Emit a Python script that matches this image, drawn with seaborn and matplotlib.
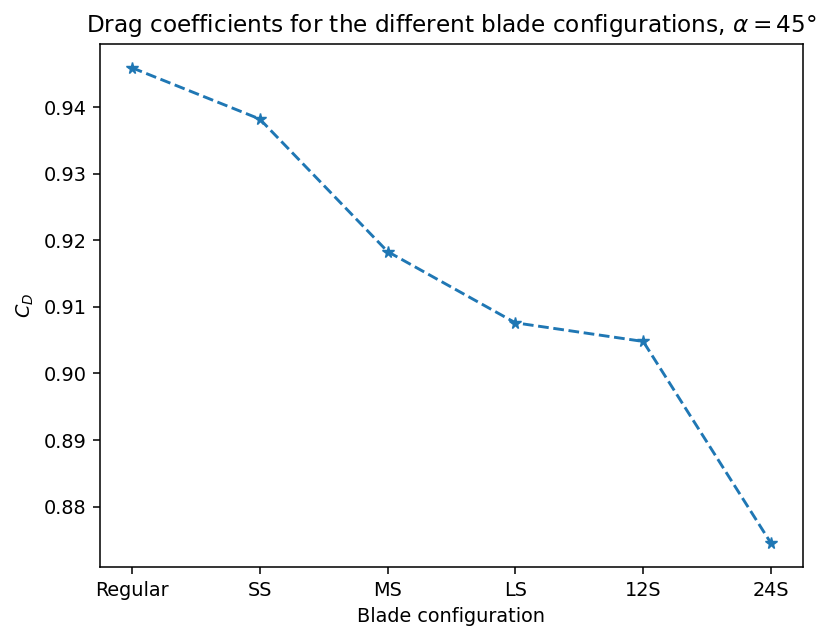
import matplotlib
matplotlib.use("Agg")
import matplotlib.pyplot as plt
import seaborn as sns
import pandas as pd

configurations = ["Regular", "SS", "MS", "LS", "12S", "24S"]
drag_coefficients = [0.9459, 0.9382, 0.9183, 0.9076, 0.9048, 0.8745]

df = pd.DataFrame({"config": configurations, "cd": drag_coefficients})

DPI = 139
plt.rcParams["font.family"] = ["DejaVu Sans"]
fig = plt.figure(figsize=(825 / DPI, 630 / DPI), dpi=DPI)
ax = fig.add_axes([0.1212, 0.100, 0.8521, 0.8302])

sns.lineplot(data=df, x="config", y="cd", sort=False, marker="*",
             linestyle="--", color="#1f77b4", markersize=6,
             markeredgecolor="#1f77b4", ax=ax)

ax.set_yticks([0.88, 0.89, 0.90, 0.91, 0.92, 0.93, 0.94])
ax.set_yticklabels(["0.88", "0.89", "0.90", "0.91", "0.92", "0.93", "0.94"])
ax.set_xlabel("Blade configuration")
ax.set_ylabel("$C_D$")
ax.set_title(r"Drag coefficients for the different blade configurations, $\alpha = 45\degree$")

fig.savefig("out.png", dpi=DPI)
